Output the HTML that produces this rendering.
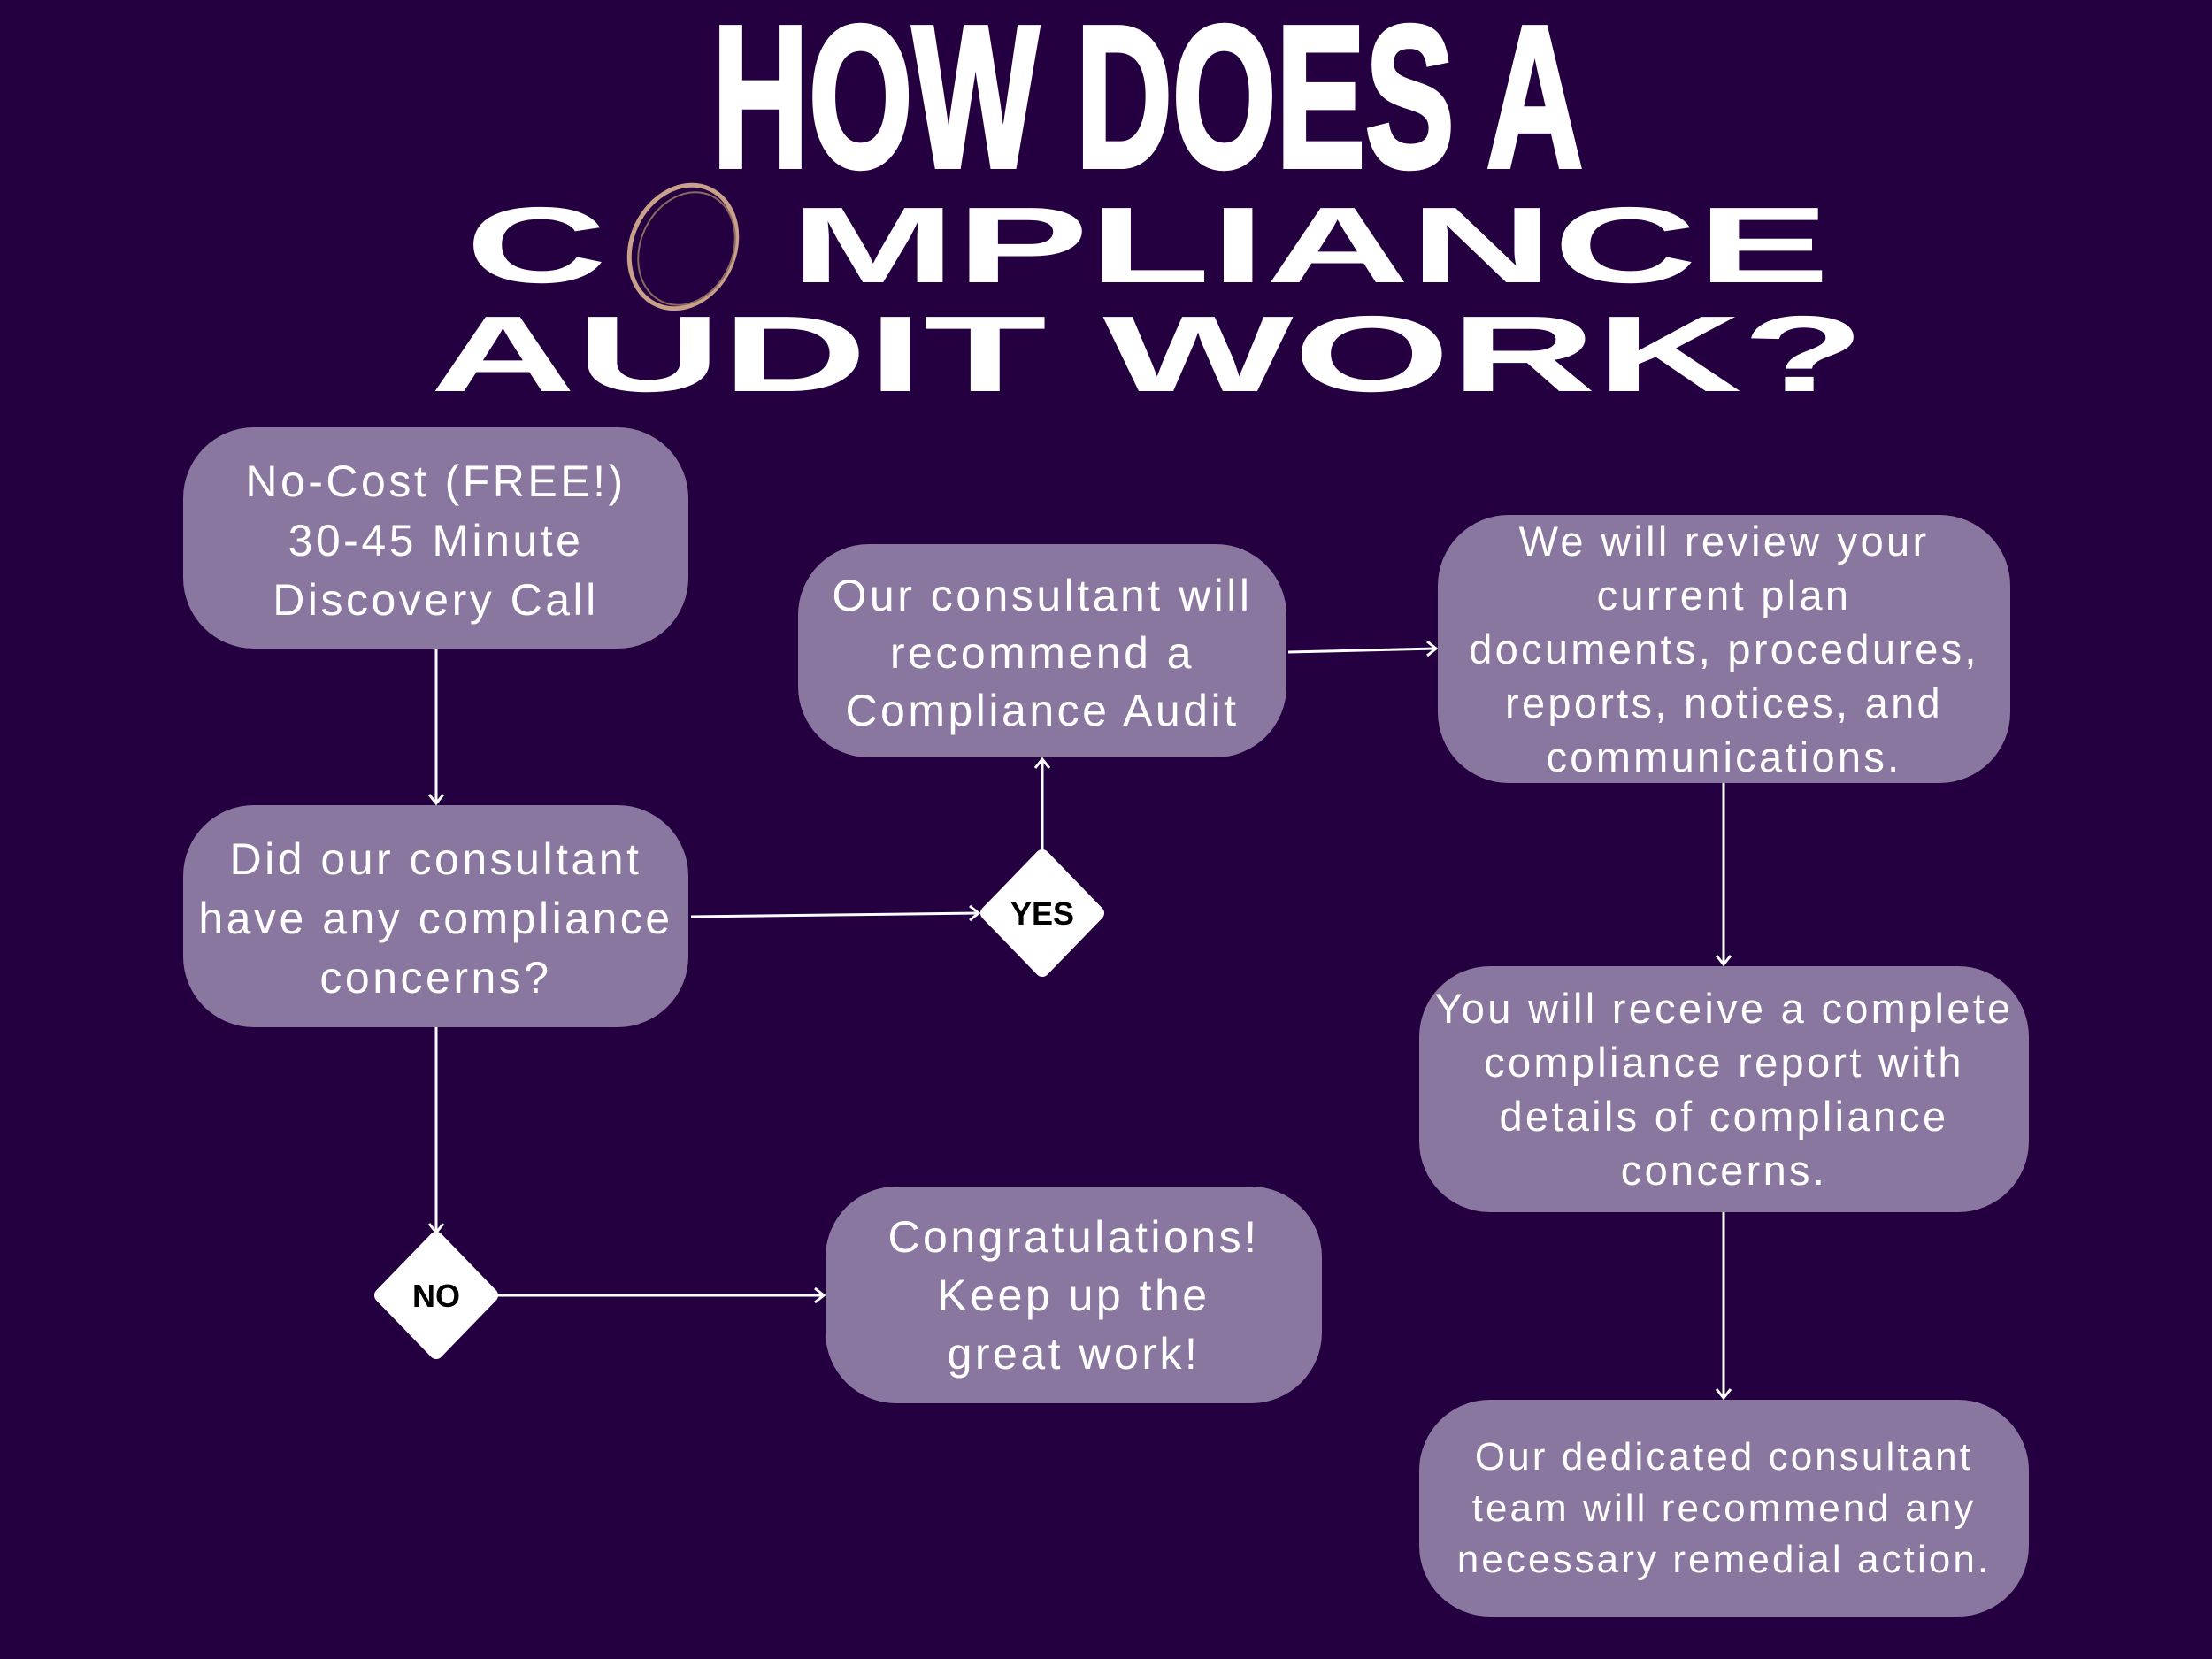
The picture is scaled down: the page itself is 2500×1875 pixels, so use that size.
<!DOCTYPE html>
<html><head><meta charset="utf-8"><style>
html,body{margin:0;padding:0;}
body{width:2500px;height:1875px;background:#240041;position:relative;overflow:hidden;font-family:"Liberation Sans",sans-serif;}
.b{position:absolute;background:#8a779f;border-radius:80px;color:#fff;display:flex;align-items:center;justify-content:center;text-align:center;font-size:50px;line-height:67px;letter-spacing:0.07em;padding-top:6px;box-sizing:border-box;}
svg{position:absolute;left:0;top:0;}
</style></head><body>
<div class="b" style="left:207px;top:483px;width:571px;height:250px;">No-Cost (FREE!)<br>30-45 Minute<br>Discovery Call</div>
<div class="b" style="left:207px;top:910px;width:571px;height:251px;">Did our consultant<br>have any compliance<br>concerns?</div>
<div class="b" style="left:902px;top:615px;width:552px;height:241px;line-height:65px;">Our consultant will<br>recommend a<br>Compliance Audit</div>
<div class="b" style="left:1625px;top:582px;width:647px;height:303px;line-height:61px;font-size:47px;padding-top:0;">We will review your<br>current plan<br>documents, procedures,<br>reports, notices, and<br>communications.</div>
<div class="b" style="left:1604px;top:1092px;width:689px;height:278px;line-height:61px;font-size:47px;padding-top:0;">You will receive a complete<br>compliance report with<br>details of compliance<br>concerns.</div>
<div class="b" style="left:1604px;top:1582px;width:689px;height:245px;line-height:58px;font-size:44px;padding-top:0;">Our dedicated consultant<br>team will recommend any<br>necessary remedial action.</div>
<div class="b" style="left:933px;top:1341px;width:561px;height:245px;line-height:66px;padding-top:0;">Congratulations!<br>Keep up the<br>great work!</div>
<svg width="2500" height="1875" viewBox="0 0 2500 1875">
<g fill="#fff" font-family="Liberation Sans, sans-serif" font-weight="bold">
<text x="805" y="188" font-size="228" textLength="984" lengthAdjust="spacingAndGlyphs" stroke="#fff" stroke-width="6">HOW DOES A</text>
<text x="526" y="319" font-size="122" textLength="160" lengthAdjust="spacingAndGlyphs">C</text>
<text x="893" y="319" font-size="122" textLength="1175" lengthAdjust="spacingAndGlyphs">MPLIANCE</text>
<text x="486" y="442" font-size="122" textLength="1622" lengthAdjust="spacingAndGlyphs">AUDIT WORK?</text>
</g>
<ellipse cx="772" cy="279" rx="58" ry="72" transform="rotate(25 772 279)" fill="none" stroke="#c9a08a" stroke-width="5"/>
<ellipse cx="776" cy="281" rx="52" ry="66" transform="rotate(25 776 281)" fill="none" stroke="#8a6a60" stroke-width="2"/>
<g stroke="#fff" stroke-width="3" fill="none">
<line x1="493" y1="733" x2="493" y2="908"/><polyline points="485,898 493,908 501,898"/>
<line x1="781" y1="1036" x2="1106" y2="1032"/><polyline points="1096,1024 1106,1032 1096,1040"/>
<line x1="1178" y1="961" x2="1178" y2="858"/><polyline points="1170,868 1178,858 1186,868"/>
<line x1="1456" y1="737" x2="1623" y2="733"/><polyline points="1613,725 1623,733 1613,741"/>
<line x1="1948" y1="885" x2="1948" y2="1090"/><polyline points="1940,1080 1948,1090 1956,1080"/>
<line x1="1948" y1="1370" x2="1948" y2="1580"/><polyline points="1940,1570 1948,1580 1956,1570"/>
<line x1="493" y1="1161" x2="493" y2="1393"/><polyline points="485,1383 493,1393 501,1383"/>
<line x1="562" y1="1464" x2="931" y2="1464"/><polyline points="921,1456 931,1464 921,1472"/>
</g>
<g fill="#fff" stroke="#fff" stroke-width="16" stroke-linejoin="round">
<polygon points="1178,968 1240,1032 1178,1096 1116,1032"/>
<polygon points="493,1400 555,1464 493,1528 431,1464"/>
</g>
<g fill="#000" font-family="Liberation Sans, sans-serif" font-weight="bold" font-size="36" text-anchor="middle">
<text x="1178" y="1045">YES</text>
<text x="493" y="1477">NO</text>
</g>
</svg>
</body></html>
